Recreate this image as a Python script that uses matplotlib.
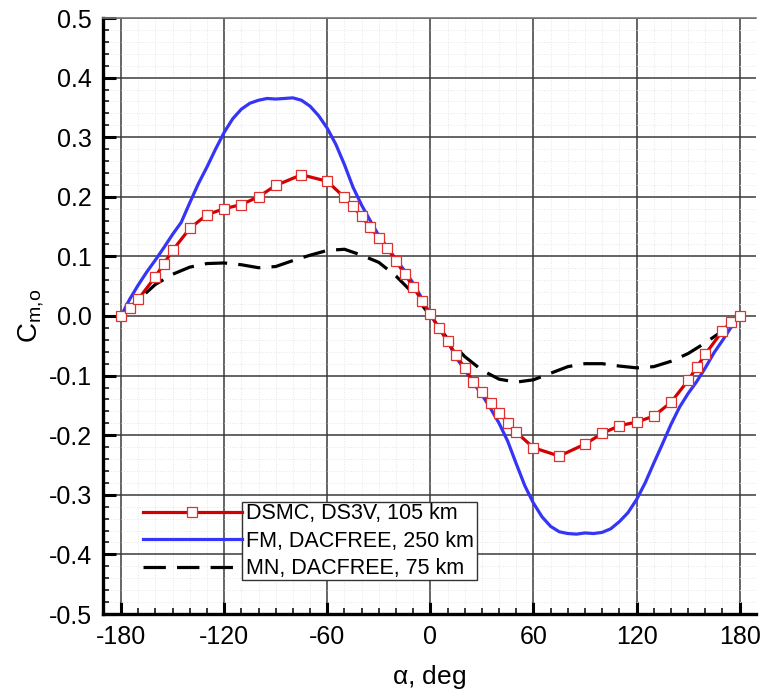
import numpy as np
import matplotlib
matplotlib.use("Agg")
import matplotlib.pyplot as plt
from matplotlib.patches import Rectangle
from matplotlib.ticker import MultipleLocator, FormatStrFormatter

plt.rcParams['font.family'] = ['Liberation Sans', 'DejaVu Sans']
plt.rcParams['axes.unicode_minus'] = False
plt.rcParams['mathtext.default'] = 'regular'

# DSMC, DS3V, 105 km (symbols)
dsmc_alpha = [-180, -175, -170, -160, -155, -150, -140, -130, -120, -110, -100, -90, -75, -60,
              -50, -45, -40, -35, -30, -25, -20, -15, -10, -5, 0, 5, 10, 15, 20, 25, 30, 35,
              40, 45, 50, 60, 75, 90, 100, 110, 120, 130, 140, 150, 155, 160, 170, 175, 180]
dsmc_cm = [0.0, 0.013, 0.028, 0.066, 0.088, 0.110, 0.147, 0.170, 0.180, 0.187, 0.200, 0.219,
           0.237, 0.226, 0.199, 0.184, 0.167, 0.149, 0.131, 0.114, 0.092, 0.071, 0.049, 0.026,
           0.003, -0.020, -0.042, -0.066, -0.087, -0.111, -0.128, -0.146, -0.162, -0.179,
           -0.195, -0.221, -0.235, -0.215, -0.197, -0.184, -0.178, -0.168, -0.145, -0.108,
           -0.086, -0.064, -0.025, -0.010, 0.0]

# FM, DACFREE, 250 km
fm_alpha = [-180, -175, -170, -165, -160, -155, -150, -145, -140, -135, -130, -125, -120, -115,
            -110, -105, -100, -95, -90, -85, -80, -75, -70, -65, -60, -55, -50, -45, -40, -35,
            -30, -25, -20, -15, -10, -5, 0, 5, 10, 15, 20, 25, 30, 35, 40, 45, 50, 55, 60, 65,
            70, 75, 80, 85, 90, 95, 100, 105, 110, 115, 120, 125, 130, 135, 140, 145, 150, 155,
            160, 165, 170, 175, 180]
fm_cm = [0.0, 0.028, 0.052, 0.074, 0.094, 0.115, 0.137, 0.157, 0.190, 0.222, 0.250, 0.280,
         0.308, 0.331, 0.347, 0.357, 0.362, 0.365, 0.364, 0.365, 0.366, 0.362, 0.352, 0.336,
         0.315, 0.288, 0.254, 0.216, 0.186, 0.160, 0.135, 0.115, 0.095, 0.076, 0.055, 0.030,
         0.002, -0.020, -0.042, -0.070, -0.090, -0.112, -0.132, -0.155, -0.180, -0.210,
         -0.248, -0.285, -0.314, -0.337, -0.353, -0.362, -0.365, -0.366, -0.364, -0.365,
         -0.363, -0.357, -0.345, -0.330, -0.308, -0.280, -0.247, -0.215, -0.182, -0.153,
         -0.130, -0.110, -0.087, -0.062, -0.041, -0.019, 0.0]

# MN, DACFREE, 75 km
mn_alpha = [-180, -170, -160, -150, -140, -130, -120, -110, -100, -90, -80, -70, -60, -50,
            -40, -30, -20, -10, 0, 10, 20, 30, 40, 50, 60, 70, 80, 90, 100, 110, 120, 130,
            140, 150, 160, 170, 180]
mn_cm = [0.0, 0.027, 0.053, 0.070, 0.082, 0.088, 0.089, 0.086, 0.081, 0.083, 0.093, 0.102,
         0.110, 0.112, 0.102, 0.090, 0.067, 0.038, 0.0, -0.038, -0.068, -0.091, -0.106, -0.111,
         -0.107, -0.096, -0.085, -0.080, -0.080, -0.084, -0.087, -0.085, -0.076, -0.063,
         -0.045, -0.025, 0.0]

fig = plt.figure(figsize=(7.64, 6.98), dpi=100)
ax = fig.add_axes([103 / 764, 1 - 614 / 698, 653 / 764, 596 / 698])

ax.plot(dsmc_alpha, dsmc_cm, color='#d20000', lw=2.3, marker='s', ms=7,
        mfc='white', mec='#e03030', mew=0.9, label='DSMC, DS3V, 105 km', zorder=4)
ax.plot(fm_alpha, fm_cm, color='#3535f5', lw=2.3, label='FM, DACFREE, 250 km', zorder=3)
ax.plot(mn_alpha, mn_cm, color='black', lw=2.3, dashes=(7, 3.5),
        label='MN, DACFREE, 75 km', zorder=3)

ax.set_xlim(-190.5, 189.5)
ax.set_ylim(-0.5, 0.5)
ax.xaxis.set_major_locator(MultipleLocator(60))
ax.xaxis.set_minor_locator(MultipleLocator(10))
ax.yaxis.set_major_locator(MultipleLocator(0.1))
ax.yaxis.set_minor_locator(MultipleLocator(0.02))
ax.yaxis.set_major_formatter(FormatStrFormatter('%.1f'))

ax.grid(which='major', color='#3a3a3a', lw=1.1)
ax.grid(which='minor', color='#e6e6e6', lw=0.7, ls=':')
ax.set_axisbelow(True)

ax.spines['right'].set_visible(False)
ax.spines['top'].set_color('#777777')
ax.spines['top'].set_linewidth(1.2)
for s in ['left', 'bottom']:
    ax.spines[s].set_linewidth(2.4)
    ax.spines[s].set_color('black')

ax.tick_params(which='major', direction='in', length=9, width=2.2, labelsize=18, pad=8,
               top=False, right=False)
ax.tick_params(which='minor', direction='in', length=4.5, width=1.1, top=False, right=False)

ax.set_xlabel(r'$\alpha$, deg', fontsize=19, labelpad=10)
ax.set_ylabel(r'$C_{m,\!o}$', fontsize=20, labelpad=2)

leg = ax.legend(loc='upper left', bbox_to_anchor=(0.061, 0.186), frameon=False,
                fontsize=15.5, handlelength=4.6, handletextpad=0.2, labelspacing=0.3,
                borderpad=0, borderaxespad=0, numpoints=1)

fig.canvas.draw()
r = fig.canvas.get_renderer()
bbs = [t.get_window_extent(r) for t in leg.get_texts()]
x0 = min(b.x0 for b in bbs) - 4
x1 = max(b.x1 for b in bbs) + 3
y0 = min(b.y0 for b in bbs) - 1
y1 = max(b.y1 for b in bbs) + 1
inv = ax.transAxes.inverted()
(ax0, ay0), (ax1, ay1) = inv.transform([(x0, y0), (x1, y1)])
ax.add_patch(Rectangle((ax0, ay0), ax1 - ax0, ay1 - ay0, transform=ax.transAxes,
                       facecolor='white', edgecolor='#333333', lw=1.0, zorder=4.5))
leg.set_zorder(5)

fig.savefig('out.png', dpi=100)
